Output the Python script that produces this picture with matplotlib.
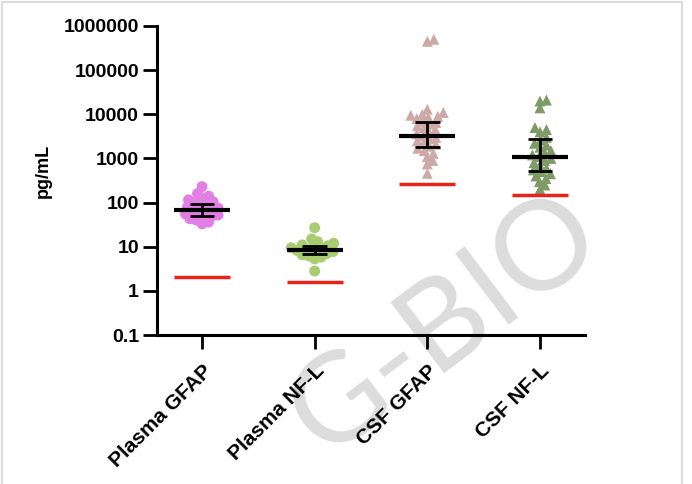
import numpy as np
import matplotlib
matplotlib.use("Agg")
import matplotlib.pyplot as plt
from matplotlib.lines import Line2D

plt.rcParams['font.family'] = ['Liberation Sans', 'DejaVu Sans']

groups = ['Plasma GFAP', 'Plasma NF-L', 'CSF GFAP', 'CSF NF-L']
plasma_gfap = [230, 160, 140, 125, 115, 105, 98, 92, 86, 80, 75, 70, 66, 62,
               58, 55, 52, 49, 46, 43, 40, 36, 33]
plasma_nfl = [27, 15, 13, 12, 11, 10.5, 10, 9.5, 9, 8.6, 8.2, 7.8, 7.4, 7,
              6.6, 6.2, 5.8, 5.3, 2.8]
csf_gfap = [500000, 450000, 13000, 11000, 10000, 9500, 9000, 8500, 8000, 7000,
            6500, 6000, 5500, 5000, 4500, 4000, 3600, 3300, 3000, 2800, 2500,
            2300, 2100, 1900, 1700, 1500, 1300, 1100, 900, 750, 460]
csf_nfl = [21000, 20000, 14000, 5000, 4500, 4000, 3000, 2600, 2200, 2000, 1800,
           1500, 1300, 1200, 1100, 1000, 900, 800, 700, 600, 550, 500, 450, 400,
           350, 300, 250, 200]
values = [plasma_gfap, plasma_nfl, csf_gfap, csf_nfl]
medians = [68, 8.3, 3200, 1100]
q1 = [50, 7.0, 1800, 520]
q3 = [95, 10.3, 6600, 2700]
lod = [2.1, 1.6, 265, 150]
colors = ['#e27fe4', '#a9cc72', '#cdaaa7', '#7e9a66']
markers = ['o', 'o', '^', '^']

fig = plt.figure(figsize=(6.92, 4.84), dpi=100)
ax = fig.add_axes([157 / 692, 1 - 335 / 484, (585 - 157) / 692, (335 - 26) / 484])
ax.patch.set_visible(False)
ax.set_yscale('log')
ax.set_ylim(0.1, 1e6)
ax.set_xlim(-0.40, 3.40)

# simple beeswarm in pixel space
px_per_x = (585 - 157) / 3.8
px_per_dec = (335 - 26) / 7.0


def swarm(vals, diam=6.5):
    ys = np.log10(vals) * px_per_dec
    order = np.argsort(ys)
    placed = []
    offs = np.zeros(len(vals))
    for i in order:
        y = ys[i]
        best = 0.0
        for k in range(0, 300):
            xo = (k + 1) // 2 * (1 if k % 2 else -1) * 0.5
            if all((xo - px) ** 2 + (y - py) ** 2 >= diam ** 2 for px, py in placed):
                best = xo
                break
        placed.append((best, y))
        offs[i] = best
    return offs / px_per_x


for i, v in enumerate(values):
    off = swarm(v)
    ax.scatter(i + off, v, s=62, marker=markers[i],
               color=colors[i], edgecolors='none', zorder=2)
    ax.hlines(medians[i], i - 0.25, i + 0.25, color='black', lw=3, zorder=4)
    ax.vlines(i, q1[i], q3[i], color='black', lw=2, zorder=4)
    ax.hlines([q1[i], q3[i]], i - 0.11, i + 0.11, color='black', lw=2, zorder=4)
    ax.hlines(lod[i], i - 0.25, i + 0.25, color='#e8231d', lw=2.5, zorder=3)

ax.set_yticks([0.1, 1, 10, 100, 1000, 10000, 100000, 1000000])
ax.set_yticklabels(['0.1', '1', '10', '100', '1000', '10000', '100000', '1000000'])
ax.minorticks_off()
ax.set_xticks(range(4))
ax.set_xticklabels(groups, rotation=45, ha='right', rotation_mode='anchor')
for lab in ax.get_yticklabels():
    lab.set_fontweight('bold')
    lab.set_fontsize(14)
for lab in ax.get_xticklabels():
    lab.set_fontweight('bold')
    lab.set_fontsize(15)
ax.tick_params(width=2, length=10)
ax.tick_params(axis='y', pad=3)
ax.tick_params(axis='x', pad=9)
ax.set_ylabel('pg/mL', fontsize=13, fontweight='bold', labelpad=14)
ax.yaxis.set_label_coords(-0.245, 0.53)
for side in ['top', 'right']:
    ax.spines[side].set_visible(False)
for side in ['left', 'bottom']:
    ax.spines[side].set_linewidth(2.2)

# watermark, sitting under the plot
fig.text(445 / 692, 1 - 325 / 484, 'G-BIO', fontsize=90, color='#dcdcdc',
         family=['Lato', 'DejaVu Sans'], fontweight='normal', rotation=37,
         ha='center', va='center', rotation_mode='anchor', zorder=-1)

# thin frame of the screenshot
for xs, ys in [([0.003, 0.003], [0, 0.995]), ([0.003, 0.985], [0.995, 0.995]),
               ([0.985, 0.985], [0, 0.995])]:
    fig.add_artist(Line2D(xs, ys, color='#dddddd', lw=1.5, transform=fig.transFigure))

fig.savefig('out.png', dpi=100)
